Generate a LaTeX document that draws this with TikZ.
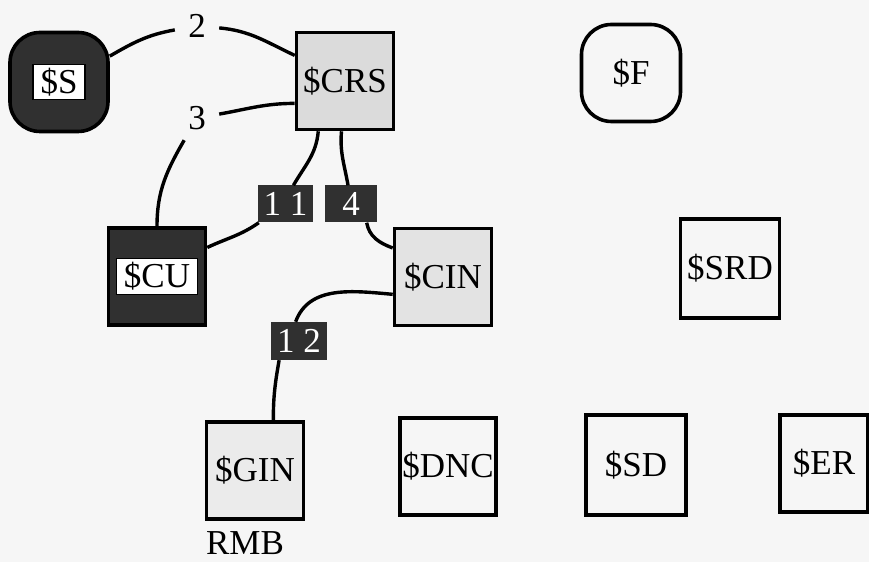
\documentclass[tikz,border=0pt]{standalone}
\usepackage{fontspec}
\setmainfont{Liberation Serif}
\usetikzlibrary{calc}
\usetikzlibrary{arrows, shapes}
\definecolor{inkdark}{rgb}{0.19,0.19,0.19}
\definecolor{paper}{rgb}{0.965,0.965,0.965}
\newcommand{\whitelbl}[1]{{\setlength{\fboxsep}{3pt}\setlength{\fboxrule}{1.2pt}\fcolorbox{black}{white}{\hspace{4pt}#1\hspace{4pt}}}}

\begin{document}
\begin{tikzpicture}[x=1pt, y=1pt, font=\fontsize{35}{38}\selectfont]
\tikzstyle{vertex_plain}=[rectangle, line width=3.6pt, draw=black, minimum width=97pt, minimum height=97pt, inner sep=0pt]
\tikzstyle{vertex_dot}=[vertex_plain, fill=gray!22]
\tikzstyle{vertex_dark}=[vertex_plain, fill=inkdark]
\tikzstyle{vertex_round}=[vertex_plain, rounded corners=30pt]
\tikzstyle{link_dark}=[rectangle, fill=inkdark, text=white, minimum width=55pt, minimum height=37pt, inner sep=0pt]
\tikzstyle{link_num}=[rectangle, minimum width=44pt, minimum height=44pt, inner sep=0pt]

\fill[paper] (0,0) rectangle (869,562);
\useasboundingbox (0,0) rectangle (869,562);

\path (59,480) node[vertex_dark, rounded corners=30pt, minimum width=98pt, minimum height=99pt](S) {\whitelbl{\$S}}
	  (345,481) node[vertex_dot, fill=gray!28](CRS) {\$CRS}
	  (631,489) node[vertex_round, minimum width=99pt](F) {\$F}
	  (157,285.5) node[vertex_dark](CU) {\raisebox{-6pt}{\whitelbl{\$CU}}}
	  (443,285) node[vertex_dot](CIN) {\$CIN}
	  (730,293.5) node[vertex_plain, minimum width=99pt, minimum height=99pt](SRD) {\$SRD}
	  (255,91.5) node[vertex_dot, fill=gray!16](GIN) {\$GIN}
	  (448,95.5) node[vertex_plain, minimum width=96pt](DNC) {\$DNC}
	  (636,97) node[vertex_plain, minimum width=100pt, minimum height=100pt](SD) {\$SD}
	  (824,98.5) node[vertex_plain, minimum width=88pt](ER) {\$ER}
	  (245,19) node[inner sep=0pt](RMB) {RMB};

\path (197,536) node[link_num](L2) {2}
	  (197,444) node[link_num](L3) {3}
	  (285.5,358) node[link_dark](K11) {1 1}
	  (351,358) node[link_dark, minimum width=52pt](K4) {4}
	  (299,221) node[link_dark, minimum width=56pt, minimum height=38pt](K12) {1 2};

\draw[line width = 3.4] (S.27) to[out=30, in=190] (L2);
\draw[line width = 3.4] (L2) to[out=-5, in=155] (CRS.153);
\draw[line width = 3.4] (CRS.204) to[out=180, in=10] (L3);
\draw[line width = 3.4] (L3) to[out=240, in=90] (CU.north);
\draw[line width = 3.4] (CRS.242) to[out=265, in=60] (K11.67);
\draw[line width = 3.4] (K11.215) to[out=215, in=25] (CU.30);
\draw[line width = 3.4] (CRS.266) to[out=265, in=100] (K4.99);
\draw[line width = 3.4] (K4.310) to[out=280, in=160] (CIN.150);
\draw[line width = 3.4] (CIN.199) to[out=175, in=70] (K12.100);
\draw[line width = 3.4] (K12.224) to[out=260, in=90] (GIN.70);

\end{tikzpicture}
\end{document}
